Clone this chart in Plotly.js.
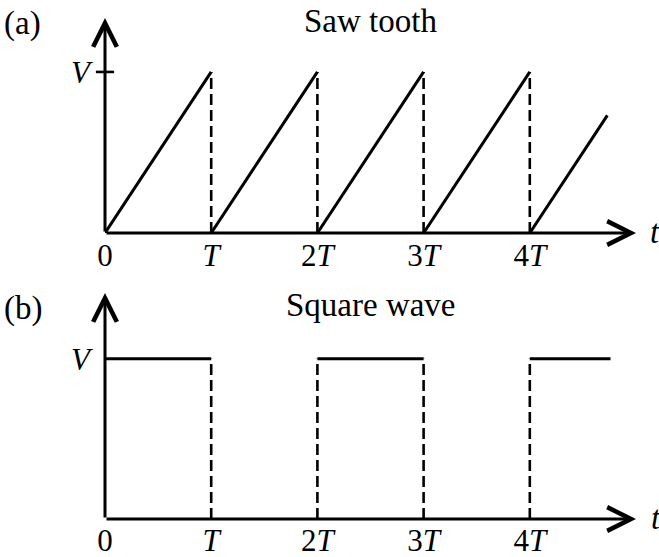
<!DOCTYPE html>
<html>
<head>
<meta charset="utf-8">
<script src="https://cdn.plot.ly/plotly-3.0.1.min.js"></script>
<style>
  html, body { margin: 0; padding: 0; background: #fff; }
  #chart { width: 659px; height: 557px; }
</style>
</head>
<body>
<div id="chart"></div>
<script>
// Time axis in units of the period T, voltage in units of V.
const periodTicks = [0, 1, 2, 3, 4];
const periodLabels = ['0', '<i>T</i>', '2<i>T</i>', '3<i>T</i>', '4<i>T</i>'];
const tMax = 5;            // end of the time axis (arrow tip)
const peakV = 1;           // level V

// (a) saw tooth: ramps from 0 to V over each period, last ramp cut short
const sawT = [0, 1, null, 1, 2, null, 2, 3, null, 3, 4, null, 4, 4.73];
const sawV = [0, 1, null, 0, 1, null, 0, 1, null, 0, 1, null, 0, 0.73];

// (b) square wave: high on [0,T], [2T,3T], [4T, ...]
const sqT = [0, 1, null, 2, 3, null, 4, 4.76];
const sqV = [1, 1, null, 1, 1, null, 1, 1];

// dashed drops / rises at each period boundary
const jumpT = [1, 2, 3, 4];

const sawTop = 1.335;      // y-axis arrow tip, panel (a)
const sqTop = 1.41;        // y-axis arrow tip, panel (b)

const FONT = 'Liberation Serif, Times New Roman, serif';
const INK = '#000';

function dashedJumps(xa, ya) {
  const x = [], y = [];
  jumpT.forEach(t => { x.push(t, t, null); y.push(0, peakV, null); });
  return {
    x, y, xaxis: xa, yaxis: ya, mode: 'lines', cliponaxis: false,
    line: { color: INK, width: 2.6, dash: '11px,5px' }, hoverinfo: 'skip'
  };
}

const traces = [
  {
    x: sawT, y: sawV, xaxis: 'x', yaxis: 'y', mode: 'lines', cliponaxis: false,
    line: { color: INK, width: 3 }, hoverinfo: 'skip'
  },
  dashedJumps('x', 'y'),
  // small cross tick at V on the vertical axis of panel (a)
  {
    x: [0], y: [peakV], xaxis: 'x', yaxis: 'y', mode: 'markers', cliponaxis: false,
    marker: { symbol: 'line-ew', size: 13, line: { color: INK, width: 2.6 } },
    hoverinfo: 'skip'
  },
  {
    x: sqT, y: sqV, xaxis: 'x2', yaxis: 'y2', mode: 'lines', cliponaxis: false,
    line: { color: INK, width: 3 }, hoverinfo: 'skip'
  },
  dashedJumps('x2', 'y2')
];

const xBase = {
  range: [0, tMax], domain: [105 / 659, 636 / 659],
  showgrid: false, zeroline: false, showline: false, ticks: '',
  tickmode: 'array', tickvals: periodTicks, ticktext: periodLabels,
  tickfont: { family: FONT, size: 31, color: INK }, fixedrange: true
};
const yBase = {
  showgrid: false, zeroline: false, showline: false, ticks: '',
  tickmode: 'array', tickvals: [peakV], ticktext: ['<i>V</i>'],
  tickfont: { family: FONT, size: 31, color: INK },
  ticklabelstandoff: 14, fixedrange: true
};

function axisArrow(xr, yr, x0, y0, x1, y1) {
  return {
    xref: xr, yref: yr, axref: xr, ayref: yr,
    x: x1, y: y1, ax: x0, ay: y0, text: '',
    showarrow: true, arrowhead: 5, arrowsize: 1.55, arrowwidth: 3,
    arrowcolor: INK, standoff: 0, startstandoff: 0
  };
}
function label(text, px, py, anchor) {
  return {
    xref: 'paper', yref: 'paper', x: px / 659, y: 1 - py / 557,
    xanchor: anchor || 'center', yanchor: 'middle', showarrow: false,
    text, font: { family: FONT, size: 33, color: INK }
  };
}

const layout = {
  width: 659, height: 557,
  margin: { l: 0, r: 0, t: 0, b: 0, pad: 0 },
  paper_bgcolor: '#fff', plot_bgcolor: 'rgba(0,0,0,0)',
  showlegend: false, hovermode: false,
  xaxis: Object.assign({}, xBase, { anchor: 'y', ticklabelstandoff: 1 }),
  yaxis: Object.assign({}, yBase, { range: [0, sawTop], domain: [1 - 233 / 557, 1 - 18 / 557], anchor: 'x' }),
  xaxis2: Object.assign({}, xBase, { anchor: 'y2', ticklabelstandoff: 0 }),
  yaxis2: Object.assign({}, yBase, { range: [0, sqTop], domain: [1 - 519 / 557, 1 - 293 / 557], anchor: 'x2' }),
  annotations: [
    axisArrow('x', 'y', 0, 0, tMax, 0),
    axisArrow('x', 'y', 0, 0, 0, sawTop),
    axisArrow('x2', 'y2', 0, 0, tMax, 0),
    axisArrow('x2', 'y2', 0, 0, 0, sqTop),
    label('(a)', 22, 24),
    label('Saw tooth', 370, 21),
    label('<i>t</i>', 648, 232, 'left'),
    label('(b)', 23, 308),
    label('Square wave', 371, 305),
    label('<i>t</i>', 649, 518, 'left')
  ]
};

Plotly.newPlot('chart', traces, layout, { staticPlot: true, displayModeBar: false });
</script>
</body>
</html>
